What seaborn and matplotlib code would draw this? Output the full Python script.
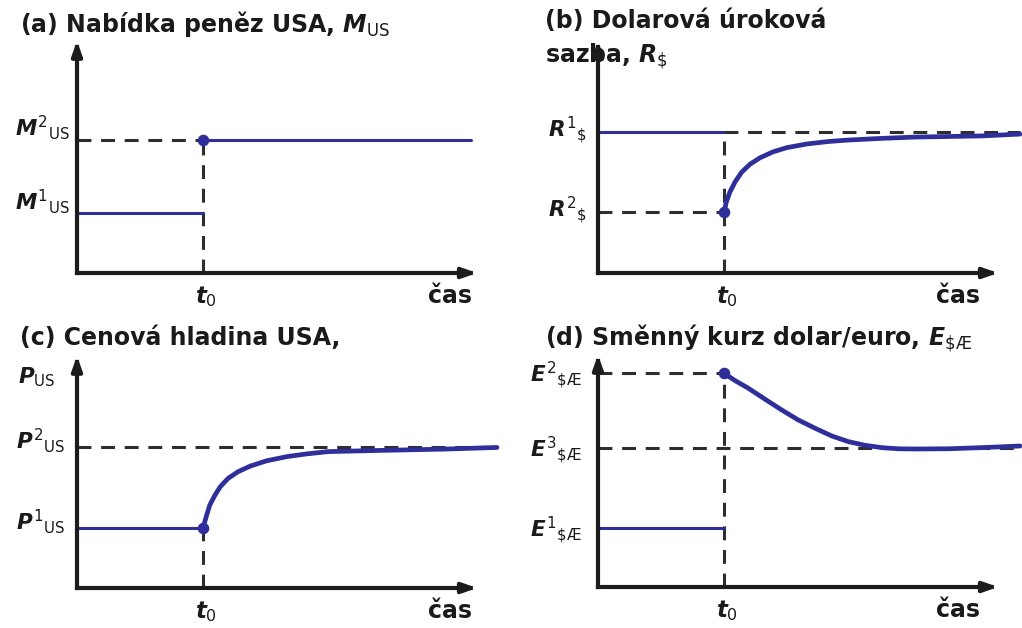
import matplotlib
matplotlib.use("Agg")
import matplotlib.pyplot as plt
import seaborn as sns

sns.set_theme(style="white")
plt.rcParams["font.family"] = ["DejaVu Sans"]
plt.rcParams["mathtext.fontset"] = "custom"
plt.rcParams["mathtext.rm"] = "DejaVu Sans"
plt.rcParams["mathtext.it"] = "DejaVu Sans:italic:bold"
plt.rcParams["mathtext.bf"] = "DejaVu Sans:bold"
plt.rcParams["lines.scale_dashes"] = False

# ---------------------------------------------------------------- data
T0 = 3.15           # moment of the permanent money-supply increase
T_END = 10.0        # length of the drawn time axis
Y_TOP = 10.1

# (a) money supply
m_levels = {"M1": 2.6, "M2": 5.8}
m_after_end = 9.85

# (b) dollar interest rate
r_levels = {"R1": 6.11, "R2": 2.64}
r_path_t = [3.15, 3.21, 3.30, 3.43, 3.59, 3.80, 4.05, 4.38, 4.72, 5.22,
            5.72, 6.01, 6.25, 7.05, 7.93, 9.6, 10.55]
r_path_y = [2.64, 3.10, 3.53, 3.97, 4.38, 4.73, 5.01, 5.27, 5.45, 5.61,
            5.71, 5.75, 5.78, 5.85, 5.91, 5.96, 6.04]

# (c) price level
p_levels = {"P1": 2.6, "P2": 6.12}
p_path_t = [3.15, 3.23, 3.32, 3.45, 3.58, 3.78, 4.03, 4.33, 4.74, 5.24,
            5.74, 6.28, 7.53, 9.2, 10.5]
p_path_y = [2.6, 3.10, 3.61, 4.04, 4.40, 4.77, 5.06, 5.30, 5.53, 5.71,
            5.83, 5.93, 5.98, 6.04, 6.11]

# (d) dollar/euro exchange rate
e_levels = {"E1": 2.57, "E2": 9.29, "E3": 6.04}
e_path_t = [3.15, 3.43, 3.76, 4.18, 4.59, 5.01, 5.43, 5.84, 6.26, 6.68,
            7.09, 7.51, 7.93, 8.76, 9.59, 10.55]
e_path_y = [9.29, 8.97, 8.64, 8.16, 7.70, 7.26, 6.90, 6.57, 6.32, 6.16,
            6.06, 6.01, 6.00, 6.01, 6.06, 6.13]

# ---------------------------------------------------------------- style
W, H = 1022, 628
BLUE = "#2f2f9c"
DASH_C = "#2e2e2e"
AXIS_C = "#1c1c1c"
TEXT_C = "#1a1a1a"
LW_FLAT = 2.2
LW_CURVE = 3.4
LW_DASH = 2.2
DASHES = (10, 7)
DOT_S = 70
LABEL_FS = 15.5

fig = plt.figure(figsize=(W / 100, H / 100), dpi=100)
fig.patch.set_facecolor("white")


def make_axes(ox, oy):
    ax = fig.add_axes([ox / W, (H - oy) / H, 400 / W, 230 / H])
    ax.set_xlim(0, 10)
    ax.set_ylim(0, 10)
    ax.set_axis_off()
    # time axis and value axis with arrow heads
    arrow = dict(arrowstyle="-|>,head_length=0.85,head_width=0.3",
                 lw=3.0, color=AXIS_C, shrinkA=0, shrinkB=0,
                 mutation_scale=10, capstyle="projecting")
    ax.annotate("", xy=(T_END, 0), xytext=(0, 0), arrowprops=arrow,
                annotation_clip=False, zorder=6)
    ax.annotate("", xy=(0, Y_TOP), xytext=(0, 0), arrowprops=arrow,
                annotation_clip=False, zorder=6)
    return ax


def dashed(ax, xs, ys):
    ax.plot(xs, ys, color=DASH_C, lw=LW_DASH, dashes=DASHES,
            clip_on=False, zorder=2)


def solid(ax, xs, ys, lw):
    sns.lineplot(x=xs, y=ys, ax=ax, color=BLUE, linewidth=lw, clip_on=False,
                 zorder=4, estimator=None, sort=False, legend=False,
                 solid_capstyle="round", solid_joinstyle="round")


def dot(ax, x, y):
    sns.scatterplot(x=[x], y=[y], ax=ax, color=BLUE, s=DOT_S, linewidth=0,
                    clip_on=False, zorder=5, legend=False)


def ylabel(ax, level, text, gap_px, dy_px):
    ax.annotate(text, xy=(0, level), xytext=(-gap_px * 0.72, -dy_px * 0.72),
                textcoords="offset points", ha="right", va="baseline",
                fontsize=LABEL_FS, color=TEXT_C, annotation_clip=False)


def xlabels(ax, cas_x_px):
    ax.annotate(r"$t_{\mathrm{0}}$", xy=(T0, 0), xytext=(2, -30 * 0.72),
                textcoords="offset points", ha="center", va="baseline",
                fontsize=16.5, color=TEXT_C, annotation_clip=False)
    ax.annotate("čas", xy=(0, 0), xytext=(cas_x_px * 0.72, -30 * 0.72),
                textcoords="offset points", ha="center", va="baseline",
                fontsize=17, fontweight="bold", color=TEXT_C,
                annotation_clip=False)


def title(x_px, y_px, text):
    fig.text(x_px / W, 1 - y_px / H, text, fontsize=17, fontweight="bold",
             ha="left", va="baseline", color=TEXT_C, zorder=-1)


# ---------------------------------------------------------------- (a)
ax = make_axes(77, 273)
dashed(ax, [0, T0], [m_levels["M2"]] * 2)
dashed(ax, [T0, T0], [0, m_levels["M2"]])
solid(ax, [0, T0], [m_levels["M1"]] * 2, LW_FLAT)
solid(ax, [T0, m_after_end], [m_levels["M2"]] * 2, LW_FLAT)
dot(ax, T0, m_levels["M2"])
ylabel(ax, m_levels["M2"], r"$M^{\mathrm{2}}{}_{\mathrm{US}}$", 7, -4)
ylabel(ax, m_levels["M1"], r"$M^{\mathrm{1}}{}_{\mathrm{US}}$", 7, -4)
xlabels(ax, 373)
title(20, 32, r"(a) Nabídka peněz USA, $M_{\mathrm{US}}$")

# ---------------------------------------------------------------- (b)
ax = make_axes(598, 273)
dashed(ax, [T0, r_path_t[-1]], [r_levels["R1"]] * 2)
dashed(ax, [0, T0], [r_levels["R2"]] * 2)
dashed(ax, [T0, T0], [0, r_levels["R1"]])
solid(ax, [0, T0], [r_levels["R1"]] * 2, LW_FLAT)
solid(ax, r_path_t, r_path_y, LW_CURVE)
dot(ax, T0, r_levels["R2"])
ylabel(ax, r_levels["R1"], r"$R^{\mathrm{1}}{}_{\mathrm{\$}}$", 11, 5)
ylabel(ax, r_levels["R2"], r"$R^{\mathrm{2}}{}_{\mathrm{\$}}$", 11, 5)
xlabels(ax, 360)
title(545, 28, "(b) Dolarová úroková")
title(545, 62, r"sazba, $R_{\mathrm{\$}}$")

# ---------------------------------------------------------------- (c)
ax = make_axes(77, 588)
dashed(ax, [0, p_path_t[-1]], [p_levels["P2"]] * 2)
dashed(ax, [T0, T0], [0, p_levels["P1"]])
solid(ax, [0, T0], [p_levels["P1"]] * 2, LW_FLAT)
solid(ax, p_path_t, p_path_y, LW_CURVE)
dot(ax, T0, p_levels["P1"])
ylabel(ax, p_levels["P2"], r"$P^{\mathrm{2}}{}_{\mathrm{US}}$", 12, 1)
ylabel(ax, p_levels["P1"], r"$P^{\mathrm{1}}{}_{\mathrm{US}}$", 12, 1)
xlabels(ax, 373)
title(20, 345, "(c) Cenová hladina USA,")
fig.text(18 / W, 1 - 383 / H, r"$P_{\mathrm{US}}$", fontsize=LABEL_FS,
         ha="left", va="baseline", color=TEXT_C)

# ---------------------------------------------------------------- (d)
ax = make_axes(598, 587)
dashed(ax, [0, T0], [e_levels["E2"]] * 2)
dashed(ax, [0, e_path_t[-1]], [e_levels["E3"]] * 2)
dashed(ax, [T0, T0], [0, e_levels["E2"]])
solid(ax, [0, T0], [e_levels["E1"]] * 2, LW_FLAT)
solid(ax, e_path_t, e_path_y, LW_CURVE)
dot(ax, T0, e_levels["E2"])
for key in ("E2", "E3", "E1"):
    ylabel(ax, e_levels[key],
           r"$E^{\mathrm{%s}}{}_{\mathrm{\$Æ}}$" % key[1], 16, 9)
xlabels(ax, 360)
title(545, 345, r"(d) Směnný kurz dolar/euro, $E_{\mathrm{\$Æ}}$")

fig.savefig("out.png", dpi=100, facecolor="white")
